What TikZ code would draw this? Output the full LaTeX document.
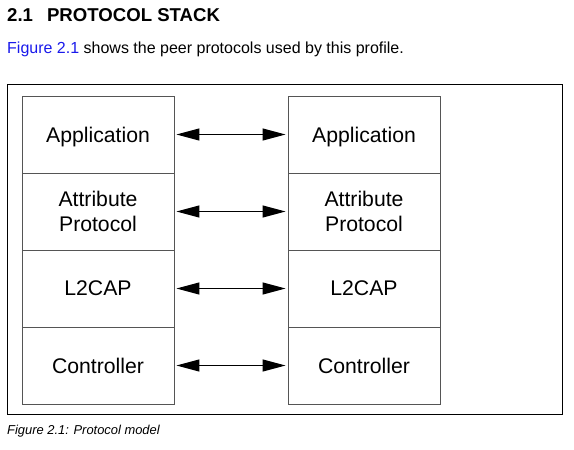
\documentclass[tikz,border=0pt]{standalone}
\usepackage{fontspec}
\setmainfont{Liberation Sans}
\usetikzlibrary{arrows.meta, positioning}
\definecolor{linkblue}{RGB}{25,25,235}
\definecolor{boxgray}{RGB}{85,85,85}

\begin{document}
\begin{tikzpicture}[
        x = 1pt, y = 1pt,
        node distance = 77pt,
        on grid,
        every node/.style = {inner sep = 0pt},
        layer/.style = {draw = boxgray, line width = 0.9pt, minimum width = 152pt, minimum height = 77pt,
                        align = center, text depth = 0pt, font = \fontsize{21.2}{25}\selectfont},
        peer/.style = {{Triangle[length = 23pt, width = 12pt]}-{Triangle[length = 23pt, width = 12pt]},
                       line width = 1.2pt, shorten <= 2pt, shorten >= 2pt}
    ]
    \useasboundingbox (0,0) rectangle (574,-450);

    % heading and text
    \node[anchor = base west, font = \bfseries\fontsize{18.6}{22}\selectfont] (title) at (7,-21) {2.1\hspace{14pt}PROTOCOL STACK};
    \node[anchor = base west, font = \fontsize{16}{19}\selectfont] (intro) at (7,-53)
        {\textcolor{linkblue}{Figure 2.1} shows the peer protocols used by this profile.};

    % frame
    \draw[line width = 1pt] (7,-84) rectangle (562,-414);

    % left stack
    \node[layer] (appL) at (98,-134.5) {Application};
    \node[layer] (attL) [below = of appL] {Attribute\\Protocol};
    \node[layer] (l2cL) [below = of attL] {L2CAP};
    \node[layer] (ctlL) [below = of l2cL] {Controller};

    % right stack
    \node[layer] (appR) [right = 266pt of appL] {Application};
    \node[layer] (attR) [below = of appR] {Attribute\\Protocol};
    \node[layer] (l2cR) [below = of attR] {L2CAP};
    \node[layer] (ctlR) [below = of l2cR] {Controller};

    \draw[peer] (appL.east) -- (appR.west);
    \draw[peer] (attL.east) -- (attR.west);
    \draw[peer] (l2cL.east) -- (l2cR.west);
    \draw[peer] (ctlL.east) -- (ctlR.west);

    % caption
    \node[anchor = base west, font = \itshape\fontsize{12.9}{15}\selectfont] (caption) at (7,-434) {Figure 2.1: Protocol model};

\end{tikzpicture}
\end{document}
